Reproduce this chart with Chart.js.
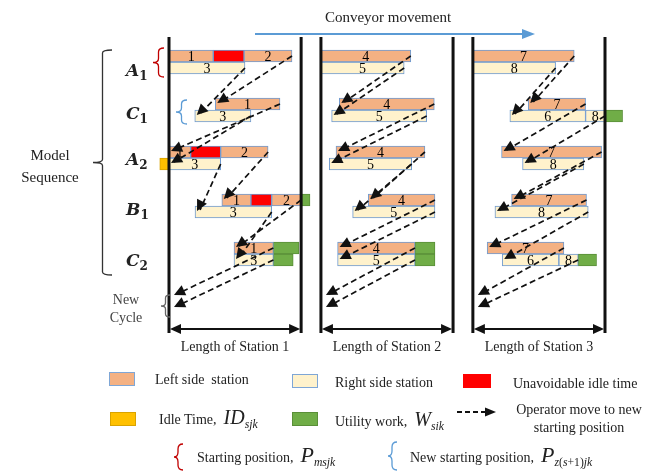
<!DOCTYPE html>
<html lang="en">
<head>
<meta charset="UTF-8" />
<title>Model sequence across stations</title>
<script src="https://cdn.jsdelivr.net/npm/chart.js"></script>
<style>
  * { box-sizing: border-box; margin: 0; padding: 0; }
  body { background: white; font-family: "Liberation Serif", "Times New Roman", serif; color: #222; }
  .wrap { position: relative; width: 661px; height: 471px; overflow: hidden; }
  #chart { position: absolute; left: 0; top: 0; }
  .txt { position: absolute; white-space: nowrap; font-size: 14px; line-height: 1; transform: translateY(-50%); }
  .ctr { transform: translate(-50%, -50%); text-align: center; }
  .row-lbl { font-family: "DejaVu Serif", serif; font-weight: bold; font-style: italic; font-size: 17px; }
  .row-lbl sub { font-size: 12px; font-style: normal; }
  .sw { position: absolute; width: 26px; height: 14px; border: 1px solid; }
  .math { font-style: italic; font-size: 20px; }
  .math sub { font-size: 10px; }
  svg.over { position: absolute; left: 0; top: 0; pointer-events: none; }
</style>
</head>
<body>
<div class="wrap">
  <canvas id="chart" width="661" height="471"></canvas>

  <div class="txt ctr" style="left:388px;top:17px;font-size:15px;">Conveyor movement</div>
  <div class="txt ctr" style="left:50px;top:166px;font-size:15px;line-height:22px;">Model<br>Sequence</div>
  <div class="txt row-lbl" style="left:126px;top:72px;">A<sub>1</sub></div>
  <div class="txt row-lbl" style="left:126px;top:115px;">C<sub>1</sub></div>
  <div class="txt row-lbl" style="left:126px;top:161px;">A<sub>2</sub></div>
  <div class="txt row-lbl" style="left:126px;top:211px;">B<sub>1</sub></div>
  <div class="txt row-lbl" style="left:126px;top:262px;">C<sub>2</sub></div>
  <div class="txt ctr" style="left:126px;top:309px;font-size:14px;line-height:18px;color:#444;">New<br>Cycle</div>

  <!-- legend -->
  <div class="sw" style="left:109px;top:372px;background:#f4b183;border-color:#7ea6d6;"></div>
  <div class="txt" style="left:155px;top:380px;">Left side&nbsp; station</div>
  <div class="sw" style="left:292px;top:374px;background:#fff2cc;border-color:#7ea6d6;"></div>
  <div class="txt" style="left:335px;top:383px;">Right side station</div>
  <div class="sw" style="left:463px;top:374px;width:28px;background:#ff0000;border-color:#ff0000;"></div>
  <div class="txt" style="left:513px;top:384px;">Unavoidable idle time</div>

  <div class="sw" style="left:110px;top:412px;background:#ffc000;border-color:#d9a300;"></div>
  <div class="txt" style="left:159px;top:419px;">Idle Time,&nbsp; <span class="math">ID</span><sub><i>sjk</i></sub></div>
  <div class="sw" style="left:292px;top:412px;background:#70ad47;border-color:#5a8f38;"></div>
  <div class="txt" style="left:335px;top:421px;">Utility work,&nbsp; <span class="math">W</span><sub><i>sik</i></sub></div>
  <div class="txt ctr" style="left:579px;top:419px;line-height:18px;">Operator move to new<br>starting position</div>

  <div class="txt" style="left:197px;top:456px;">Starting position,&nbsp; <span class="math" style="font-size:22px;">P</span><sub><i>msjk</i></sub></div>
  <div class="txt" style="left:410px;top:456px;">New starting position,&nbsp; <span class="math" style="font-size:22px;">P</span><sub><i>z</i>(<i>s</i>+1)<i>jk</i></sub></div>

  <svg class="over" width="661" height="471">
    <line x1="255" y1="34" x2="524" y2="34" stroke="#5b9bd5" stroke-width="2"/>
    <polygon points="522,29 535,34 522,39" fill="#5b9bd5"/>
    <line x1="457" y1="412" x2="486" y2="412" stroke="#111" stroke-width="2" stroke-dasharray="5,3"/>
    <polygon points="485,407.5 496,412 485,416.5" fill="#111"/>
    <path d="M183,444 Q178,444 178,449 L178,452 Q178,457 174,457 Q178,457 178,462 L178,465 Q178,470 183,470" fill="none" stroke="#c00000" stroke-width="1.3"/>
    <path d="M397,442 Q392,442 392,447 L392,451 Q392,456 388,456 Q392,456 392,461 L392,465 Q392,470 397,470" fill="none" stroke="#5b9bd5" stroke-width="1.3"/>
  </svg>
</div>

<script>
  const models = ['A1', 'C1', 'A2', 'B1', 'C2'];
  const stationNames = ['Length of Station 1', 'Length of Station 2', 'Length of Station 3'];

  // tasks: [model, side (0 left, 1 right), start, end, task no.]  (station length = 10)
  const station1Tasks = [
    [0, 0, 0, 3.35, 1], [0, 0, 5.68, 9.31, 2], [0, 1, 0, 5.75, 3],
    [1, 0, 3.5, 8.4, 1], [1, 1, 1.95, 6.2, 3],
    [2, 0, 0, 1.64, 1], [2, 0, 3.91, 7.5, 2], [2, 1, 0, 3.91, 3],
    [3, 0, 4.0, 6.2, 1], [3, 0, 7.77, 10.0, 2], [3, 1, 1.97, 7.77, 3],
    [4, 0, 4.92, 7.9, 1], [4, 1, 4.92, 7.9, 3]
  ];
  const station2Tasks = [
    [0, 0, 0, 6.8, 4], [0, 1, 0, 6.3, 5],
    [1, 0, 1.39, 8.58, 4], [1, 1, 0.81, 8.0, 5],
    [2, 0, 1.14, 7.87, 4], [2, 1, 0.63, 6.87, 5],
    [3, 0, 3.58, 8.63, 4], [3, 1, 2.4, 8.63, 5],
    [4, 0, 1.26, 7.12, 4], [4, 1, 1.26, 7.12, 5]
  ];
  const station3Tasks = [
    [0, 0, 0, 7.67, 7], [0, 1, 0, 6.26, 8],
    [1, 0, 4.19, 8.53, 7], [1, 1, 2.8, 8.53, 6], [1, 1, 8.53, 10.0, 8],
    [2, 0, 2.17, 9.74, 7], [2, 1, 3.76, 8.4, 8],
    [3, 0, 2.93, 8.6, 7], [3, 1, 1.67, 8.73, 8],
    [4, 0, 1.08, 6.89, 7], [4, 1, 2.22, 6.51, 6], [4, 1, 6.51, 7.97, 8]
  ];
  // [station, model, side, start, end]
  const unavoidableIdle = [[0, 0, 0, 3.35, 5.68], [0, 2, 0, 1.64, 3.91], [0, 3, 0, 6.2, 7.77]];
  const utilityWork = [
    [0, 3, 0, 10.0, 10.67], [0, 4, 0, 7.9, 9.84], [0, 4, 1, 7.9, 9.4],
    [1, 4, 0, 7.12, 8.63], [1, 4, 1, 7.12, 8.63],
    [2, 1, 1, 10.0, 11.33], [2, 4, 1, 7.97, 9.36]
  ];
  const idleTime = [[0, 2, 1, -0.7, 0]];

  const STATION_LEN = 10, STATION_GAP = 1.5;
  const stationStart = s => s * (STATION_LEN + STATION_GAP);
  const slotLabels = models.flatMap(m => [m + ' left', m + ' right', m + ' gap a', m + ' gap b'])
    .concat(['New cycle left', 'New cycle right']);
  const slotOf = (model, side) => model * 4 + side;
  const allTasks = [station1Tasks, station2Tasks, station3Tasks];

  function taskData(side) {
    const out = [];
    allTasks.forEach((list, s) => list.forEach(([m, sd, a, b, no]) => {
      if (sd === side) out.push({ x: [stationStart(s) + a, stationStart(s) + b], y: slotLabels[slotOf(m, sd)], task: no });
    }));
    return out;
  }
  function extraData(list) {
    return list.map(([s, m, sd, a, b]) => ({ x: [stationStart(s) + a, stationStart(s) + b], y: slotLabels[slotOf(m, sd)] }));
  }

  function drawHead(ctx, x0, y0, x1, y1, len, half) {
    const ang = Math.atan2(y1 - y0, x1 - x0);
    ctx.beginPath();
    ctx.moveTo(x1, y1);
    ctx.lineTo(x1 - len * Math.cos(ang) + half * Math.sin(ang), y1 - len * Math.sin(ang) - half * Math.cos(ang));
    ctx.lineTo(x1 - len * Math.cos(ang) - half * Math.sin(ang), y1 - len * Math.sin(ang) + half * Math.cos(ang));
    ctx.closePath();
    ctx.fill();
  }

  // curly brace opening to the right
  function drawBrace(ctx, xTip, xEnd, yTop, yBot, color, r) {
    const xm = (xTip + xEnd) / 2, ym = (yTop + yBot) / 2;
    ctx.strokeStyle = color;
    ctx.lineWidth = 1.3;
    ctx.beginPath();
    ctx.moveTo(xEnd, yTop);
    ctx.quadraticCurveTo(xm, yTop, xm, yTop + r);
    ctx.lineTo(xm, ym - r);
    ctx.quadraticCurveTo(xm, ym, xTip, ym);
    ctx.quadraticCurveTo(xm, ym, xm, ym + r);
    ctx.lineTo(xm, yBot - r);
    ctx.quadraticCurveTo(xm, yBot, xEnd, yBot);
    ctx.stroke();
  }

  const overlay = {
    id: 'overlay',
    afterDatasetsDraw(chart) {
      const { ctx, chartArea: area, scales: { x, y } } = chart;
      const px = v => x.getPixelForValue(v);
      const py = i => y.getPixelForValue(i);
      ctx.save();

      // task numbers
      ctx.font = '14px "Liberation Serif"';
      ctx.fillStyle = '#000';
      ctx.textAlign = 'center';
      ctx.textBaseline = 'middle';
      [0, 1].forEach(di => {
        const meta = chart.getDatasetMeta(di);
        meta.data.forEach((el, i) => {
          ctx.fillText(String(chart.data.datasets[di].data[i].task), (el.x + el.base) / 2, el.y + 1);
        });
      });

      // operator moves
      ctx.strokeStyle = '#111';
      ctx.fillStyle = '#111';
      ctx.lineWidth = 1.7;
      allTasks.forEach((list, s) => {
        [0, 1].forEach(side => {
          models.forEach((m, r) => {
            const cur = list.filter(t => t[0] === r && t[1] === side);
            const endX = px(stationStart(s) + Math.max(...cur.map(t => t[3])));
            let toX, toY;
            if (r < models.length - 1) {
              const nxt = list.filter(t => t[0] === r + 1 && t[1] === side);
              toX = px(stationStart(s) + Math.min(...nxt.map(t => t[2])));
              toY = py(slotOf(r + 1, side));
            } else {
              toX = px(stationStart(s)) + 3;
              toY = py(20 + side);
            }
            const fromY = py(slotOf(r, side));
            ctx.setLineDash([6, 3.5]);
            ctx.beginPath();
            ctx.moveTo(endX, fromY);
            ctx.lineTo(toX + 5, toY - 2);
            ctx.stroke();
            ctx.setLineDash([]);
            drawHead(ctx, endX, fromY, toX + 2, toY - 1, 11, 5.5);
          });
        });
      });

      // station borders, length arrows, names
      ctx.font = '14px "Liberation Serif"';
      stationNames.forEach((name, s) => {
        const l = px(stationStart(s)), r = px(stationStart(s) + STATION_LEN);
        ctx.strokeStyle = '#111';
        ctx.fillStyle = '#111';
        ctx.lineWidth = 3;
        ctx.beginPath();
        ctx.moveTo(l, area.top - 13); ctx.lineTo(l, area.bottom + 19);
        ctx.moveTo(r, area.top - 13); ctx.lineTo(r, area.bottom + 19);
        ctx.stroke();
        const ay = area.bottom + 15;
        ctx.lineWidth = 2;
        ctx.beginPath();
        ctx.moveTo(l + 6, ay); ctx.lineTo(r - 6, ay);
        ctx.stroke();
        drawHead(ctx, r, ay, l + 1, ay, 11, 5);
        drawHead(ctx, l, ay, r - 1, ay, 11, 5);
        ctx.fillStyle = '#222';
        ctx.fillText(name, (l + r) / 2, area.bottom + 33);
      });

      // braces
      const L = area.left;
      drawBrace(ctx, L - 76, L - 57, py(0) - 6, py(17) + 15, '#333', 3);
      drawBrace(ctx, L - 16, L - 5, py(0) - 8, py(1) + 9, '#c00000', 4);
      drawBrace(ctx, L + 7, L + 18, py(4) - 4, py(5) + 8, '#5b9bd5', 4);
      drawBrace(ctx, L - 8, L + 1, py(20) - 1, py(21) + 9, '#666', 3);

      ctx.restore();
    }
  };

  const barStyle = { borderWidth: 1, borderSkipped: false, clip: false };

  new Chart(document.getElementById('chart'), {
    type: 'bar',
    data: {
      labels: slotLabels,
      datasets: [
        { label: 'Left side station', data: taskData(0), backgroundColor: '#f4b183', borderColor: '#6f9ad0', ...barStyle },
        { label: 'Right side station', data: taskData(1), backgroundColor: '#fff2cc', borderColor: '#6f9ad0', ...barStyle },
        { label: 'Unavoidable idle time', data: extraData(unavoidableIdle), backgroundColor: '#ff0000', borderColor: '#6f9ad0', ...barStyle },
        { label: 'Utility work', data: extraData(utilityWork), backgroundColor: '#70ad47', borderColor: '#5a8f38', ...barStyle },
        { label: 'Idle time', data: extraData(idleTime), backgroundColor: '#ffc000', borderColor: '#d9a300', ...barStyle }
      ]
    },
    options: {
      indexAxis: 'y',
      responsive: false,
      animation: false,
      events: [],
      layout: { padding: { left: 169, right: 56, top: 50, bottom: 157 } },
      datasets: { bar: { grouped: false, categoryPercentage: 1, barPercentage: 1 } },
      scales: {
        x: { type: 'linear', min: 0, max: 33, display: false },
        y: { type: 'category', display: false }
      },
      plugins: { legend: { display: false }, tooltip: { enabled: false } }
    },
    plugins: [overlay]
  });
</script>
</body>
</html>
